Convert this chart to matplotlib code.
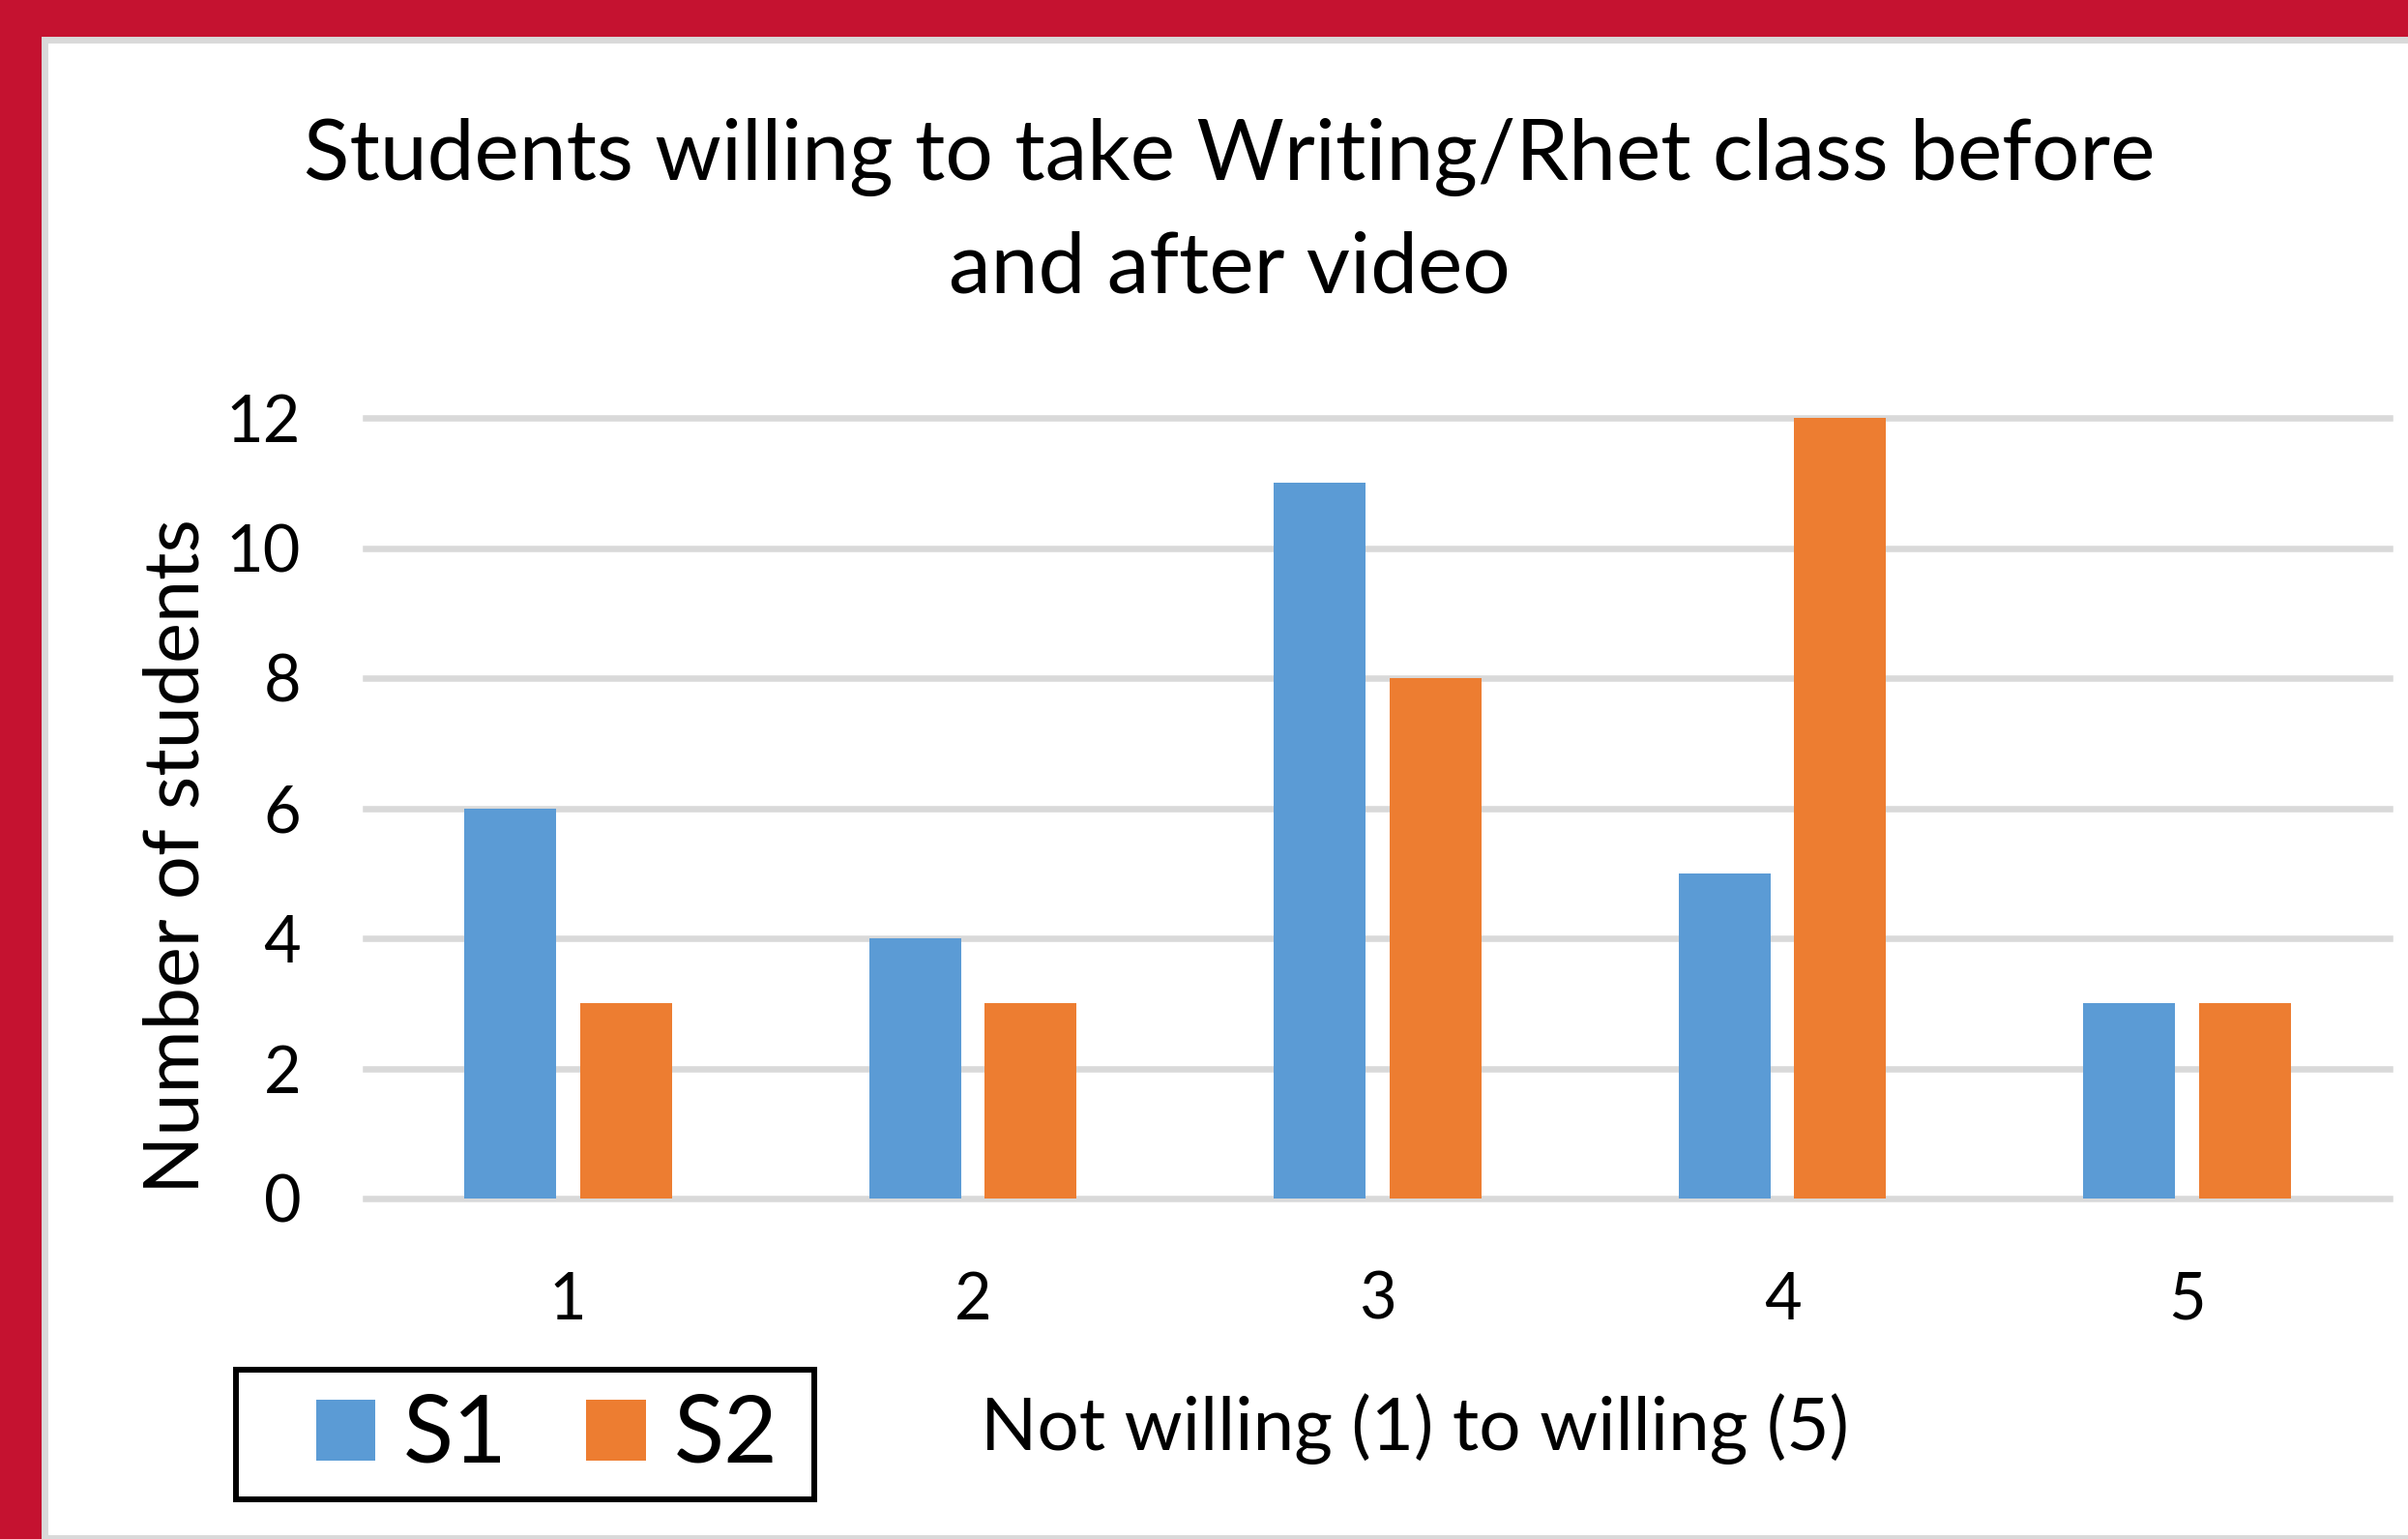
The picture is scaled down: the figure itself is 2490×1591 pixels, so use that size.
import matplotlib.pyplot as plt
import matplotlib.patches as mpatches
import numpy as np

categories = ['1', '2', '3', '4', '5']
s1 = [6, 4, 11, 5, 3]
s2 = [3, 3, 8, 12, 3]
series_names = ['S1', 'S2']
yticks = [0, 2, 4, 6, 8, 10, 12]

plt.rcParams['font.family'] = ['Lato', 'DejaVu Sans']

W, H = 2490, 1591
fig = plt.figure(figsize=(W / 100, H / 100), dpi=100, facecolor='#C51230')

# white chart panel with light grey border (right side runs off the picture)
panel = mpatches.Rectangle((45.5 / W, 1.5 / H), 1.0, (H - 42) / H,
                           transform=fig.transFigure, facecolor='white',
                           edgecolor='#D9D9D9', linewidth=5, zorder=-1)
fig.add_artist(panel)

ax = fig.add_axes([378 / W, 1 - 1239 / H, (2471 - 378) / W, (1239 - 432) / H])
ax.set_facecolor('none')

x = np.arange(len(categories))
w = 0.227
b1 = ax.bar(x - 0.143, s1, w, color='#5B9BD5', label=series_names[0])
b2 = ax.bar(x + 0.143, s2, w, color='#ED7D31', label=series_names[1])

ax.set_xlim(-0.5, len(categories) - 0.5)
ax.set_ylim(0, 12)
ax.set_yticks(yticks)
ax.set_xticks(x)
ax.set_xticklabels(categories)
ax.set_axisbelow(True)
ax.grid(axis='y', color='#D9D9D9', linewidth=4.7)
for gl in ax.get_ygridlines():
    gl.set_clip_on(False)
for s in ax.spines.values():
    s.set_visible(False)
ax.tick_params(axis='both', length=0, labelsize=48)
ax.tick_params(axis='x', pad=54)
ax.tick_params(axis='y', pad=48)

fig.text(1271 / W, 1 - 220 / H,
         'Students willing to take Writing/Rhet class before\nand after video',
         ha='center', va='center', fontsize=63, linespacing=1.55)
fig.text(183 / W, 1 - 885 / H, 'Number of students', rotation=90,
         ha='center', va='center', fontsize=57)
fig.text(1463 / W, 1 - 1477 / H, 'Not willing (1) to willing (5)',
         ha='center', va='center', fontsize=55)

# legend with heavy black frame
frame = mpatches.Rectangle((244 / W, 1 - 1550 / H), (842 - 244) / W, (1550 - 1416) / H,
                           transform=fig.transFigure, fill=False,
                           edgecolor='black', linewidth=4.3)
fig.add_artist(frame)
fig.legend(handles=[b1, b2], loc='center left', bbox_to_anchor=(327 / W, 1 - 1485 / H),
           ncol=2, frameon=False, fontsize=69, handlelength=0.64, handleheight=0.64,
           handletextpad=0.3, columnspacing=0.85, borderpad=0, borderaxespad=0)

fig.savefig('out.png', dpi=100, facecolor=fig.get_facecolor())
